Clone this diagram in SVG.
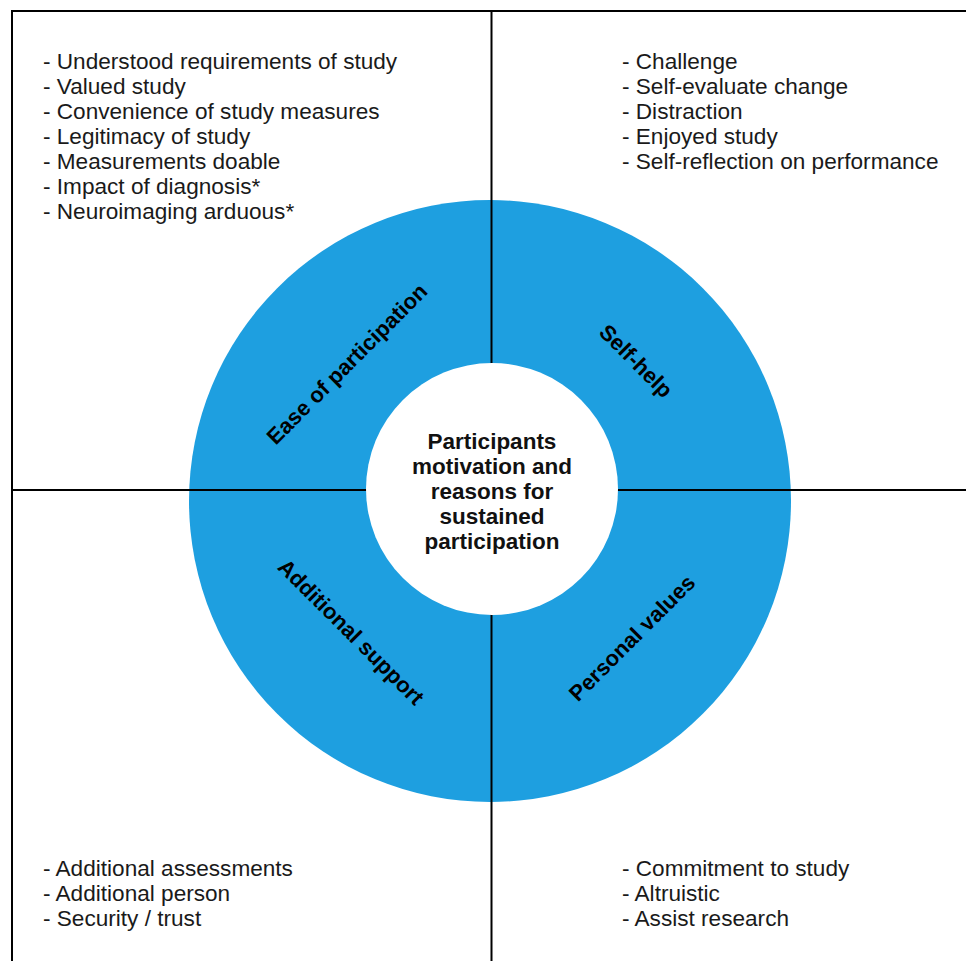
<svg xmlns="http://www.w3.org/2000/svg" width="966" height="961" viewBox="0 0 966 961">
<style>
.list{font-family:"Liberation Sans",Arial,sans-serif;font-size:22.6px;fill:#1a1a1a}
.seg{font-family:"Liberation Sans",Arial,sans-serif;font-size:22px;font-weight:bold;fill:#000;text-anchor:middle;dominant-baseline:central}
.ctr{font-family:"Liberation Sans",Arial,sans-serif;font-size:22.5px;font-weight:bold;fill:#111;text-anchor:middle}
.ln{stroke:#000;stroke-width:2;fill:none}
</style>
<rect width="966" height="961" fill="#fff"/>
<rect x="12" y="11" width="970" height="970" class="ln"/>
<g id="ring">
<circle cx="490" cy="501" r="301" fill="#1e9fe0"/>
</g>
<g id="connectors">
<line x1="491.5" y1="11" x2="491.5" y2="961" class="ln"/>
<line x1="12" y1="490" x2="966" y2="490" class="ln"/>
</g>
<g id="center">
<circle cx="492" cy="489" r="126" fill="#fff"/>
<text class="ctr" x="492" y="449">Participants</text>
<text class="ctr" x="492" y="474">motivation and</text>
<text class="ctr" x="492" y="499">reasons for</text>
<text class="ctr" x="492" y="524">sustained</text>
<text class="ctr" x="492" y="549">participation</text>
</g>
<g id="seg-ease"><text class="seg" transform="translate(347,364) rotate(-45)">Ease of participation</text></g>
<g id="seg-selfhelp"><text class="seg" transform="translate(636,361) rotate(45)">Self-help</text></g>
<g id="seg-additional"><text class="seg" transform="translate(351,632) rotate(45)">Additional support</text></g>
<g id="seg-personal"><text class="seg" transform="translate(632,638) rotate(-45)">Personal values</text></g>
<g id="list-ease">
<text class="list" x="43" y="69">- Understood requirements of study</text>
<text class="list" x="43" y="94">- Valued study</text>
<text class="list" x="43" y="119">- Convenience of study measures</text>
<text class="list" x="43" y="144">- Legitimacy of study</text>
<text class="list" x="43" y="169">- Measurements doable</text>
<text class="list" x="43" y="194">- Impact of diagnosis*</text>
<text class="list" x="43" y="219">- Neuroimaging arduous*</text>
</g>
<g id="list-selfhelp">
<text class="list" x="622" y="69">- Challenge</text>
<text class="list" x="622" y="94">- Self-evaluate change</text>
<text class="list" x="622" y="119">- Distraction</text>
<text class="list" x="622" y="144">- Enjoyed study</text>
<text class="list" x="622" y="169">- Self-reflection on performance</text>
</g>
<g id="list-additional">
<text class="list" x="43" y="876">- Additional assessments</text>
<text class="list" x="43" y="901">- Additional person</text>
<text class="list" x="43" y="926">- Security / trust</text>
</g>
<g id="list-personal">
<text class="list" x="622" y="876">- Commitment to study</text>
<text class="list" x="622" y="901">- Altruistic</text>
<text class="list" x="622" y="926">- Assist research</text>
</g>
</svg>
